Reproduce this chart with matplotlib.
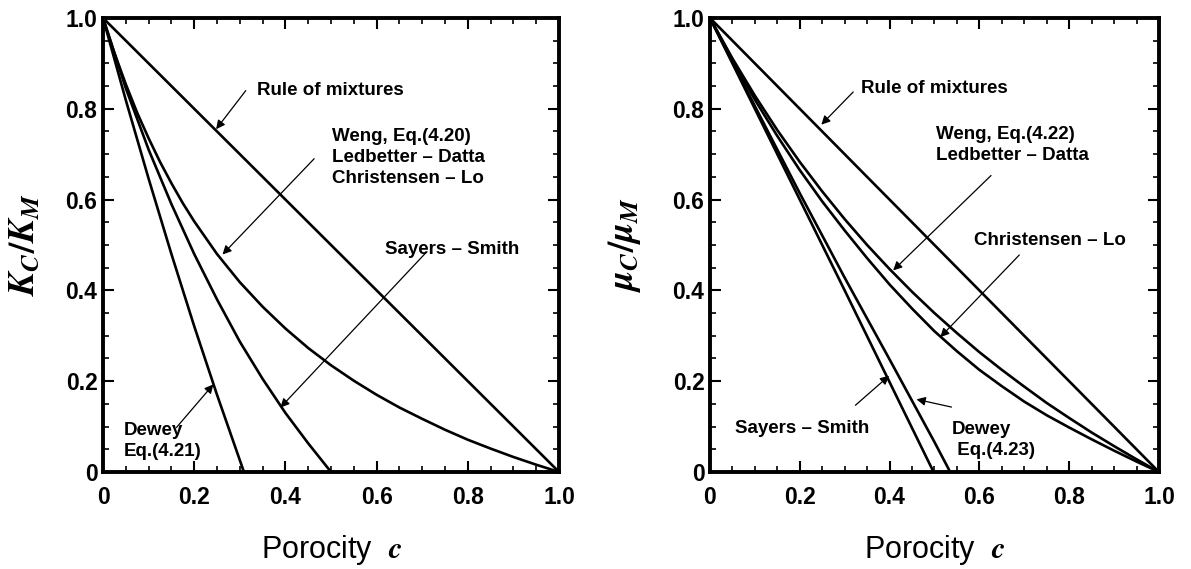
#!/usr/bin/env python3
# Effective bulk and shear moduli of porous material vs porosity, two panels.

import matplotlib.pyplot as plt
from matplotlib.ticker import MultipleLocator

plt.rcParams.update({
    "font.family": "Liberation Sans",
    "font.weight": "bold",
    "mathtext.fontset": "stix",
    "xtick.direction": "in",
    "ytick.direction": "in",
    "xtick.top": True,
    "ytick.right": True,
})

TICKS = [0, 0.2, 0.4, 0.6, 0.8, 1.0]
TICK_LABELS = ["0", "0.2", "0.4", "0.6", "0.8", "1.0"]

# rule of mixtures (both panels)
rule_c = [0.0, 1.0]
rule_v = [1.0, 0.0]

# left panel: bulk modulus K_C/K_M
weng_k_c = [0, 0.025, 0.05, 0.075, 0.1, 0.125, 0.15, 0.175, 0.2, 0.25, 0.3, 0.35, 0.4,
            0.45, 0.5, 0.55, 0.6, 0.65, 0.7, 0.75, 0.8, 0.85, 0.9, 0.95, 1.0]
weng_k = [1.0, 0.923, 0.854, 0.791, 0.735, 0.683, 0.636, 0.592, 0.552, 0.48, 0.418, 0.364, 0.316,
          0.273, 0.235, 0.201, 0.17, 0.142, 0.117, 0.093, 0.071, 0.0515, 0.033, 0.016, 0.0]
sayers_k_c = [0, 0.05, 0.1, 0.15, 0.2, 0.25, 0.3, 0.35, 0.4, 0.45, 0.5]
sayers_k = [1.0, 0.845, 0.71, 0.59, 0.48, 0.38, 0.287, 0.205, 0.13, 0.063, 0.0]
dewey_k_c = [0, 0.05, 0.1, 0.15, 0.2, 0.25, 0.309]
dewey_k = [1.0, 0.819, 0.646, 0.48, 0.321, 0.17, 0.0]

# right panel: shear modulus mu_C/mu_M
weng_mu_c = [0, 0.05, 0.1, 0.15, 0.2, 0.25, 0.3, 0.35, 0.4, 0.45, 0.5,
             0.55, 0.6, 0.65, 0.7, 0.75, 0.8, 0.85, 0.9, 0.95, 1.0]
weng_mu = [1.0, 0.911, 0.829, 0.753, 0.683, 0.618, 0.557, 0.5, 0.447, 0.397, 0.35,
           0.306, 0.264, 0.225, 0.188, 0.152, 0.119, 0.087, 0.057, 0.028, 0.0]
christensen_mu_c = [0, 0.05, 0.1, 0.15, 0.2, 0.25, 0.3, 0.35, 0.4, 0.45, 0.5,
                    0.55, 0.6, 0.65, 0.7, 0.75, 0.8, 0.85, 0.9, 0.95, 1.0]
christensen_mu = [1.0, 0.908, 0.82, 0.74, 0.665, 0.596, 0.532, 0.471, 0.413, 0.36, 0.31,
                  0.266, 0.225, 0.189, 0.155, 0.125, 0.098, 0.072, 0.047, 0.023, 0.0]
sayers_mu_c = [0, 0.1, 0.2, 0.3, 0.4, 0.45, 0.498]
sayers_mu = [1.0, 0.80, 0.60, 0.40, 0.198, 0.097, 0.0]
dewey_mu_c = [0, 0.1, 0.2, 0.3, 0.4, 0.45, 0.5, 0.535]
dewey_mu = [1.0, 0.806, 0.614, 0.428, 0.248, 0.157, 0.066, 0.0]

LINE = dict(color="black", linewidth=1.9, solid_capstyle="butt", solid_joinstyle="round")
ARROW = dict(arrowstyle="-|>", color="black", linewidth=0.9,
             mutation_scale=13, shrinkA=0, shrinkB=0)
NOTE_FS = 13.5


def style_axes(ax, ylabel, ylabel_x):
    ax.set_xlim(0, 1)
    ax.set_ylim(0, 1)
    ax.set_xticks(TICKS)
    ax.set_xticklabels(TICK_LABELS)
    ax.set_yticks(TICKS)
    ax.set_yticklabels(TICK_LABELS)
    ax.xaxis.set_minor_locator(MultipleLocator(0.05))
    ax.yaxis.set_minor_locator(MultipleLocator(0.05))
    ax.tick_params(which="major", length=8, width=1.5, labelsize=16.5)
    ax.tick_params(which="minor", length=4.5, width=1.2)
    ax.tick_params(axis="x", which="major", pad=10)
    ax.tick_params(axis="y", which="major", pad=4)
    for s in ax.spines.values():
        s.set_linewidth(2.8)
    ax.set_xlabel("Porocity  $c$", fontsize=22, fontweight="normal")
    ax.xaxis.label.set_verticalalignment("baseline")
    ax.xaxis.set_label_coords(0.5, -0.19)
    ax.set_ylabel(ylabel, fontsize=26, fontweight="normal")
    ax.yaxis.set_label_coords(ylabel_x, 0.5)


def note(ax, text, xy_text, start, tip, spacing=1.3):
    ax.text(xy_text[0], xy_text[1], text, fontsize=NOTE_FS, ha="left",
            va="center", linespacing=spacing)
    ax.annotate("", xy=tip, xytext=start, arrowprops=ARROW)


fig = plt.figure(figsize=(11.91, 5.69), dpi=100)
ax1 = fig.add_axes([0.0865, 0.1705, 0.3829, 0.7979])
ax2 = fig.add_axes([0.5961, 0.1705, 0.3770, 0.7979])

# left: bulk modulus
ax1.plot(rule_c, rule_v, **LINE)
ax1.plot(weng_k_c, weng_k, **LINE)
ax1.plot(sayers_k_c, sayers_k, **LINE)
ax1.plot(dewey_k_c, dewey_k, **LINE)
style_axes(ax1, "$K_C/K_M$", -0.135)

note(ax1, "Rule of mixtures", (0.338, 0.84), (0.313, 0.84), (0.248, 0.755))
note(ax1, "Weng, Eq.(4.20)\nLedbetter \u2013 Datta\nChristensen \u2013 Lo",
     (0.502, 0.692), (0.463, 0.69), (0.262, 0.479))
note(ax1, "Sayers \u2013 Smith", (0.618, 0.49), (0.709, 0.484), (0.389, 0.142))
note(ax1, "Dewey\nEq.(4.21)", (0.046, 0.068), (0.161, 0.098), (0.242, 0.193))

# right: shear modulus
ax2.plot(rule_c, rule_v, **LINE)
ax2.plot(weng_mu_c, weng_mu, **LINE)
ax2.plot(christensen_mu_c, christensen_mu, **LINE)
ax2.plot(sayers_mu_c, sayers_mu, **LINE)
ax2.plot(dewey_mu_c, dewey_mu, **LINE)
style_axes(ax2, r"$\mu_C/\mu_M$", -0.15)

note(ax2, "Rule of mixtures", (0.336, 0.845), (0.319, 0.837), (0.248, 0.765))
note(ax2, "Weng, Eq.(4.22)\nLedbetter \u2013 Datta", (0.504, 0.72),
     (0.626, 0.653), (0.408, 0.444))
note(ax2, "Christensen \u2013 Lo", (0.588, 0.51), (0.689, 0.478), (0.513, 0.297))
note(ax2, "Sayers \u2013 Smith", (0.055, 0.096), (0.324, 0.147), (0.399, 0.212))
note(ax2, "Dewey\n Eq.(4.23)", (0.538, 0.07), (0.538, 0.143), (0.46, 0.16))

fig.savefig("out.png", dpi=100)
